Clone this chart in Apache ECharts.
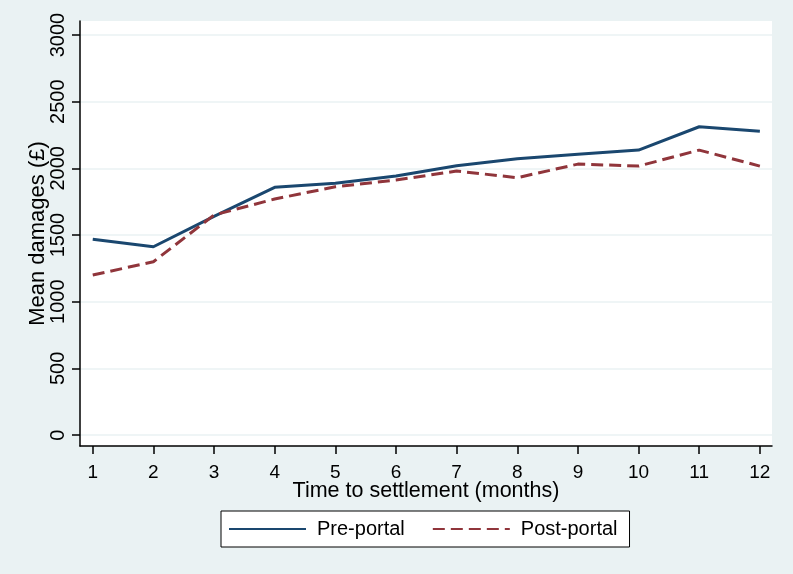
<!DOCTYPE html>
<html>
<head>
<meta charset="utf-8">
<title>Mean damages by time to settlement</title>
<script src="https://cdn.jsdelivr.net/npm/echarts@6.0.0/dist/echarts.min.js"></script>
<style>
  html, body { margin: 0; padding: 0; background: #EAF2F3; }
  #chart { width: 793px; height: 574px; }
</style>
</head>
<body>
<div id="chart"></div>
<script>
// 数据
const months = [1, 2, 3, 4, 5, 6, 7, 8, 9, 10, 11, 12];
const prePortal = [1468, 1412, 1640, 1858, 1888, 1942, 2020, 2072, 2105, 2137, 2312, 2278];
const postPortal = [1200, 1300, 1650, 1770, 1862, 1912, 1980, 1930, 2032, 2017, 2137, 2017];
const yTicks = [0, 500, 1000, 1500, 2000, 2500, 3000];

const font = "Liberation Sans";
let myChart = echarts.init(document.getElementById("chart"));

let option = {
    backgroundColor: "#EAF2F3",
    animation: false,
    textStyle: { fontFamily: font, color: "#000" },
    grid: {
        left: 80,
        right: 21,
        top: 21,
        bottom: 128,
        show: true,
        backgroundColor: "#fff",
        borderWidth: 0
    },
    legend: {
        left: 221,
        top: 511,
        padding: [8, 12, 8, 7],
        backgroundColor: "#fff",
        borderColor: "#000",
        borderWidth: 1,
        borderRadius: 0,
        itemWidth: 77,
        itemHeight: 14,
        itemGap: 27,
        itemStyle: { opacity: 0 },
        textStyle: { fontSize: 20, color: "#000", fontFamily: font, padding: [0, 0, 0, 6] },
        data: ["Pre-portal", "Post-portal"]
    },
    xAxis: {
        type: "value",
        min: 0.79,
        max: 12.2,
        name: "Time to settlement (months)",
        nameLocation: "middle",
        nameGap: 34,
        nameMoveOverlap: false,
        nameTextStyle: { fontSize: 21.5, color: "#000", fontFamily: font },
        axisLine: { onZero: false, lineStyle: { color: "#000", width: 1.5 } },
        axisTick: { show: true, length: 8, customValues: months, lineStyle: { color: "#000", width: 1.5 } },
        axisLabel: { customValues: months, fontSize: 19, color: "#000", margin: 17, fontFamily: font },
        splitLine: { show: false }
    },
    yAxis: {
        type: "value",
        min: -82,
        max: 3105,
        name: "Mean damages (£)",
        nameLocation: "middle",
        nameGap: 31,
        nameMoveOverlap: false,
        nameTextStyle: { fontSize: 22, color: "#000", fontFamily: font },
        axisLine: { show: true, onZero: false, lineStyle: { color: "#000", width: 1.5 } },
        axisTick: { show: true, length: 8, customValues: yTicks, lineStyle: { color: "#000", width: 1.5 } },
        axisLabel: {
            customValues: yTicks,
            formatter: (v) => String(v),
            rotate: 90,
            fontSize: 20,
            color: "#000",
            margin: 12,
            fontFamily: font
        },
        splitLine: { show: true, lineStyle: { color: "#EAF2F3", width: 1.5 } }
    },
    series: [
        {
            name: "Pre-portal",
            type: "line",
            symbol: "none",
            data: months.map((m, i) => [m, prePortal[i]]),
            itemStyle: { color: "#1A476F" },
            lineStyle: { color: "#1A476F", width: 3 }
        },
        {
            name: "Post-portal",
            type: "line",
            symbol: "none",
            data: months.map((m, i) => [m, postPortal[i]]),
            itemStyle: { color: "#90353B" },
            lineStyle: { color: "#90353B", width: 3, type: [12, 6] }
        }
    ]
};
myChart.setOption(option);
</script>
</body>
</html>
